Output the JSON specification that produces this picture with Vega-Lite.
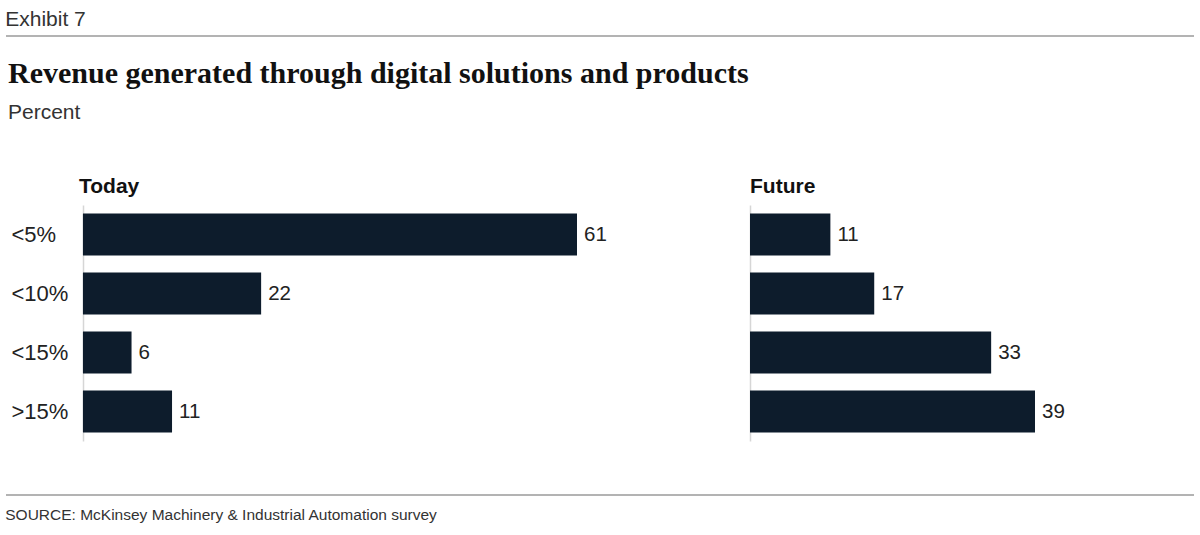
{
  "$schema": "https://vega.github.io/schema/vega-lite/v6.json",
  "padding": {"left": 5, "top": 9, "right": 0, "bottom": 0},
  "background": "white",
  "config": {"view": {"stroke": null}, "font": "Liberation Sans"},
  "spacing": 22,
  "datasets": {
    "bars": [
      {"period": "Today", "share": "<5%", "value": 61},
      {"period": "Today", "share": "<10%", "value": 22},
      {"period": "Today", "share": "<15%", "value": 6},
      {"period": "Today", "share": ">15%", "value": 11},
      {"period": "Future", "share": "<5%", "value": 11},
      {"period": "Future", "share": "<10%", "value": 17},
      {"period": "Future", "share": "<15%", "value": 33},
      {"period": "Future", "share": ">15%", "value": 39}
    ],
    "rules": [{"r": 0}]
  },
  "vconcat": [
    {
      "width": 1188,
      "height": 1,
      "title": {"text": "Exhibit 7", "anchor": "start", "font": "Liberation Sans", "fontSize": 21, "fontWeight": "normal", "color": "#333333", "baseline": "bottom", "offset": -16},
      "data": {"name": "rules"},
      "mark": {"type": "rule", "color": "#9a9a9a", "strokeWidth": 1.5},
      "encoding": {"y": {"field": "r", "type": "quantitative", "axis": null, "scale": {"domain": [0, 1]}}}
    },
    {
      "title": {"text": "Revenue generated through digital solutions and products", "subtitle": "Percent", "anchor": "start", "dx": 2, "font": "Liberation Serif", "fontSize": 30, "fontWeight": "bold", "color": "#111111", "subtitleFont": "Liberation Sans", "subtitleFontSize": 21, "subtitleColor": "#333333", "subtitlePadding": 13, "offset": 53},
      "spacing": 143,
      "hconcat": [
        {
          "width": 571,
          "height": 236,
          "title": {"text": "Today", "anchor": "start", "frame": "group", "font": "Liberation Sans", "fontSize": 21, "fontWeight": "bold", "color": "#111111", "baseline": "bottom", "offset": -13, "dx": 73},
          "data": {"name": "bars"},
          "transform": [{"filter": "datum.period === 'Today'"}],
          "encoding": {
            "y": {"field": "share", "type": "nominal", "sort": ["<5%", "<10%", "<15%", ">15%"], "scale": {"paddingInner": 0.29, "paddingOuter": 0.145},
              "axis": {"title": null, "offset": -77, "domainColor": "#d6d6d6", "domainWidth": 1.5, "ticks": false, "labelAlign": "left", "labelPadding": 72, "minExtent": 0, "labelFontSize": 22, "labelColor": "#222222", "labelFont": "Liberation Sans"}},
            "x": {"field": "value", "type": "quantitative", "scale": {"domain": [-9.5, 61], "nice": false, "zero": false}, "axis": null}
          },
          "layer": [
            {"mark": {"type": "bar", "color": "#0d1c2c"}},
            {"mark": {"type": "text", "align": "left", "dx": 7, "fontSize": 20.5, "color": "#222222", "font": "Liberation Sans"}, "encoding": {"text": {"field": "value", "type": "quantitative"}}}
          ]
        },
        {
          "width": 285,
          "height": 236,
          "title": {"text": "Future", "anchor": "start", "frame": "group", "font": "Liberation Sans", "fontSize": 21, "fontWeight": "bold", "color": "#111111", "baseline": "bottom", "offset": -13},
          "data": {"name": "bars"},
          "transform": [{"filter": "datum.period === 'Future'"}],
          "encoding": {
            "y": {"field": "share", "type": "nominal", "sort": ["<5%", "<10%", "<15%", ">15%"], "scale": {"paddingInner": 0.29, "paddingOuter": 0.145},
              "axis": {"title": null, "domainColor": "#d6d6d6", "domainWidth": 1.5, "ticks": false, "labels": false, "minExtent": 0}},
            "x": {"field": "value", "type": "quantitative", "scale": {"domain": [0, 39], "nice": false}, "axis": null}
          },
          "layer": [
            {"mark": {"type": "bar", "color": "#0d1c2c"}},
            {"mark": {"type": "text", "align": "left", "dx": 7, "fontSize": 20.5, "color": "#222222", "font": "Liberation Sans"}, "encoding": {"text": {"field": "value", "type": "quantitative"}}}
          ]
        }
      ]
    },
    {
      "width": 1188,
      "height": 32,
      "title": {"text": "SOURCE: McKinsey Machinery & Industrial Automation survey", "orient": "bottom", "anchor": "start", "font": "Liberation Sans", "fontSize": 15.5, "fontWeight": "normal", "color": "#333333", "offset": 12},
      "data": {"name": "rules"},
      "mark": {"type": "rule", "color": "#9a9a9a", "strokeWidth": 1.5},
      "encoding": {"y": {"field": "r", "type": "quantitative", "axis": null, "scale": {"domain": [0, 1]}}}
    }
  ]
}
